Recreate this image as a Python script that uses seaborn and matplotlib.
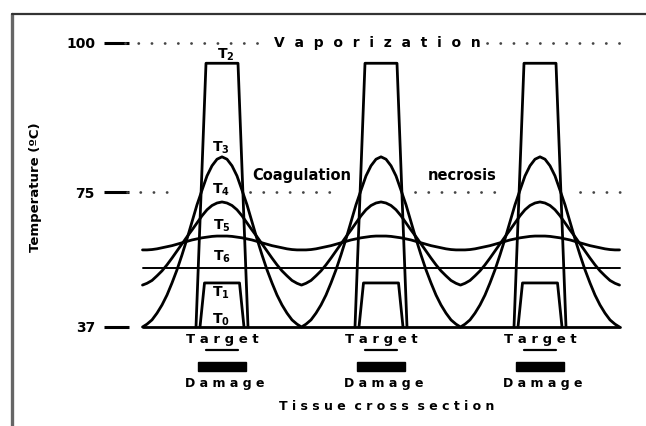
import numpy as np
import pandas as pd
import matplotlib
matplotlib.use("Agg")
import matplotlib.pyplot as plt
import seaborn as sns
from matplotlib.patches import Rectangle
from matplotlib.lines import Line2D
from matplotlib.scale import FuncScale

# ---------------- data ----------------
site_centers = [222, 381, 540]                 # tissue position of the three targets (a.u.)
profile_offsets = [0, 5, 10, 15, 20, 25, 30, 35, 40, 45, 50, 55, 60, 65, 70, 75, 79.5]
t3_profile = [80.9, 80.5, 79.4, 77.7, 75.3, 71.4, 66.6, 61.8, 57.3, 53.1, 49.4, 46.0, 43.2, 40.9, 39.0, 37.8, 37.0]
t4_profile = [72.2, 71.9, 71.2, 70.0, 68.3, 66.3, 64.3, 62.4, 60.4, 58.4, 56.4, 54.5, 52.8, 51.4, 50.1, 49.3, 48.8]
t5_profile = [62.6, 62.6, 62.5, 62.3, 62.1, 61.8, 61.5, 61.1, 60.7, 60.3, 59.9, 59.6, 59.3, 59.0, 58.8, 58.7, 58.7]
t6_level = 53.6
t0_level = 37.0
t2_box_offsets = [-26, -16, 16, 26]
t2_box_temps = [37, 96.6, 96.6, 37]
t1_box_offsets = [-22, -17.5, 17.5, 22]
t1_box_temps = [37, 49.4, 49.4, 37]

curve_labels = [r"$\mathbf{T_2}$", r"$\mathbf{T_3}$", r"$\mathbf{T_4}$", r"$\mathbf{T_5}$",
                r"$\mathbf{T_6}$", r"$\mathbf{T_1}$", r"$\mathbf{T_0}$"]
curve_label_temps = [98.0, 82.4, 75.3, 65.5, 56.7, 46.6, 39.0]
curve_label_pos = [226, 221, 221, 222, 222, 221, 221]

temp_ticks = [37, 75, 100]
temp_tick_labels = ["37", "75", "100"]

# ---------------- helpers ----------------
def fwd(t):
    t = np.asarray(t, float)
    return np.where(t <= 75, (t - 37) * 135 / 38, 135 + (t - 75) * 149 / 25)

def inv(h):
    h = np.asarray(h, float)
    return np.where(h <= 135, 37 + h * 38 / 135, 75 + (h - 135) * 25 / 149)

def tile(profile):
    xs, ys = [], []
    for c in site_centers:
        xs += [c - o for o in reversed(profile_offsets)] + [c + o for o in profile_offsets[1:]]
        ys += list(reversed(profile)) + list(profile[1:])
    return xs, ys

rows = []
for name, prof in [("T3", t3_profile), ("T4", t4_profile), ("T5", t5_profile)]:
    xs, ys = tile(prof)
    rows += [dict(curve=name, pos=x, temp=y, order=i) for i, (x, y) in enumerate(zip(xs, ys))]
left_end = site_centers[0] - profile_offsets[-1]
right_end = site_centers[-1] + profile_offsets[-1]
for name, lvl in [("T6", t6_level), ("T0", t0_level)]:
    rows += [dict(curve=name, pos=left_end, temp=lvl, order=0),
             dict(curve=name, pos=right_end, temp=lvl, order=1)]
for k, c in enumerate(site_centers):
    for i, (o, t) in enumerate(zip(t2_box_offsets, t2_box_temps)):
        rows.append(dict(curve=f"T2_{k}", pos=c + o, temp=t, order=i))
    for i, (o, t) in enumerate(zip(t1_box_offsets, t1_box_temps)):
        rows.append(dict(curve=f"T1_{k}", pos=c + o, temp=t, order=i))
df = pd.DataFrame(rows)

# ---------------- figure ----------------
sns.set_style("white")
plt.rcParams["font.family"] = ["DejaVu Sans"]
plt.rcParams["mathtext.fontset"] = "dejavusans"
plt.rcParams["text.color"] = "black"
plt.rcParams["axes.labelcolor"] = "black"

W, H = 646, 426
fig = plt.figure(figsize=(W / 100, H / 100), dpi=100)
ax_left = 104
ax = fig.add_axes([ax_left / W, 0, (W - ax_left) / W, 1])
ax.set_yscale(FuncScale(ax, (fwd, inv)))
ax.set_xlim(ax_left, W)
# baseline (37) at pixel row 327, 100 at pixel row 43
ax.set_ylim(float(inv(-(H - 327))), float(inv(327)))

for name, g in df.groupby("curve"):
    g = g.sort_values("order")
    lw = 1.4 if name == "T6" else 2.0
    sns.lineplot(data=g, x="pos", y="temp", sort=False, estimator=None,
                 color="black", lw=lw, ax=ax, legend=False, clip_on=False)

# reference dotted lines
dot_style = dict(color="#444444", lw=2.0, linestyle=(0, (0.05, 4.7)), dash_capstyle="round")
for a, b in [(125, 267), (487, 629)]:
    ax.plot([a, b], [100, 100], **dot_style)
for a, b in [(127, 177), (250, 342), (415, 497), (580, 622)]:
    ax.plot([a, b], [75, 75], **dot_style)

ax.text(377, 100, "V  a  p  o  r  i  z  a  t  i  o  n", ha="center", va="center",
        fontsize=10, fontweight="bold")
ax.text(302, 77.85, "Coagulation", ha="center", va="center", fontsize=10.5, fontweight="bold")
ax.text(462, 77.7, "necrosis", ha="center", va="center", fontsize=10.5, fontweight="bold")

for lab, t, x in zip(curve_labels, curve_label_temps, curve_label_pos):
    ax.text(x, t, lab, ha="center", va="center", fontsize=10)

# ticks
ax.set_yticks(temp_ticks)
ax.set_yticklabels(temp_tick_labels, fontweight="bold", fontsize=10)
ax.set_xticks([])
ax.tick_params(axis="y", direction="in", length=18, width=2.2, pad=6.5, left=True,
               color="black", labelcolor="black")
for s in ax.spines.values():
    s.set_visible(False)
ax.set_ylabel("Temperature (ºC)", fontsize=9.5, fontweight="bold")
ax.yaxis.set_label_coords((42 - ax_left) / (W - ax_left), 1 - 187 / H)
ax.set_xlabel("")

# target / damage annotations
xt = ax.get_xaxis_transform()
for c in site_centers:
    ax.text(c, 1 - 339 / H, "T a r g e t", transform=xt, ha="center", va="center",
            fontsize=9.5, fontweight="bold")
    ax.plot([c - 16, c + 16], [1 - 350 / H, 1 - 350 / H], transform=xt, color="black",
            lw=1.6, clip_on=False)
    ax.add_patch(Rectangle((c - 24, 1 - 371 / H), 48, 9 / H, transform=xt,
                           color="black", clip_on=False))
    ax.text(c + 3, 1 - 384 / H, "D a m a g e", transform=xt, ha="center", va="center",
            fontsize=9, fontweight="bold")
ax.text(387, 1 - 406 / H, "T i s s u e  c r o s s  s e c t i o n", transform=xt,
        ha="center", va="center", fontsize=9, fontweight="bold")

# scanned page frame
fig.add_artist(Line2D([12 / W, 12 / W], [0, 1 - 13.5 / H], transform=fig.transFigure,
                      color="#666666", lw=2.4))
fig.add_artist(Line2D([12 / W, 1], [1 - 13.5 / H, 1 - 13.5 / H], transform=fig.transFigure,
                      color="#333333", lw=1.6))

fig.savefig("out.png", dpi=100)
